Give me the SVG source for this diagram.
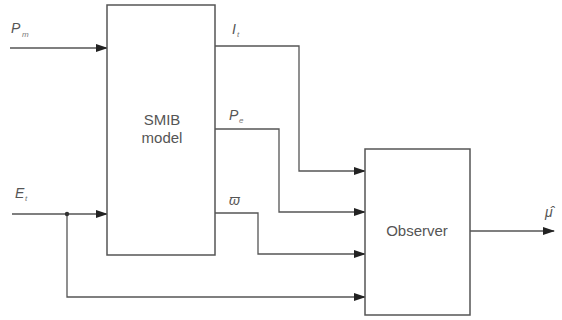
<svg xmlns="http://www.w3.org/2000/svg" width="562" height="320" viewBox="0 0 562 320">
<defs>
<marker id="ah" markerWidth="12" markerHeight="8" refX="11" refY="4" orient="auto" markerUnits="userSpaceOnUse">
<path d="M0,0 L12,4 L0,8 z" fill="#222"/>
</marker>
<style>
.box{fill:#fff;stroke:#555;stroke-width:1.5}
.ln{fill:none;stroke:#555;stroke-width:1.3}
.t{font-family:"Liberation Sans",Arial,sans-serif;font-size:15px;fill:#555}
.lbl{font-family:"Liberation Sans",Arial,sans-serif;font-size:14px;font-style:italic;fill:#555}
.sub{font-family:"Liberation Sans",Arial,sans-serif;font-size:8px;font-style:italic;fill:#777}
</style>
</defs>
<rect width="562" height="320" fill="#fff"/>
<g id="connectors">
<path class="ln" d="M10,48 H107" marker-end="url(#ah)"/>
<path class="ln" d="M12,214 H107" marker-end="url(#ah)"/>
<path class="ln" d="M67,214 V297 H365" marker-end="url(#ah)"/>
<path class="ln" d="M215,46 H299 V171 H365" marker-end="url(#ah)"/>
<path class="ln" d="M215,129 H279 V212 H365" marker-end="url(#ah)"/>
<path class="ln" d="M215,213 H258 V254 H365" marker-end="url(#ah)"/>
<path class="ln" d="M470,231 H554" marker-end="url(#ah)"/>
<circle cx="67" cy="214" r="2.2" fill="#333"/>
</g>
<g id="smib">
<rect class="box" x="107" y="5" width="108" height="250"/>
<text class="t" x="162" y="125" text-anchor="middle">SMIB</text>
<text class="t" x="162" y="143" text-anchor="middle">model</text>
</g>
<g id="observer">
<rect class="box" x="365" y="149" width="105" height="166"/>
<text class="t" x="417" y="236" text-anchor="middle">Observer</text>
</g>
<g id="labels">
<text class="lbl" x="11" y="33">P</text><text class="sub" x="22" y="37">m</text>
<text class="lbl" x="15" y="198">E</text><text class="sub" x="25" y="201">t</text>
<text class="lbl" x="232" y="34">I</text><text class="sub" x="237" y="37">t</text>
<text class="lbl" x="229" y="120">P</text><text class="sub" x="239" y="123">e</text>
<text class="lbl" x="229" y="205">ϖ</text>
<text class="lbl" x="545" y="217">μ̂</text>
</g>
</svg>
